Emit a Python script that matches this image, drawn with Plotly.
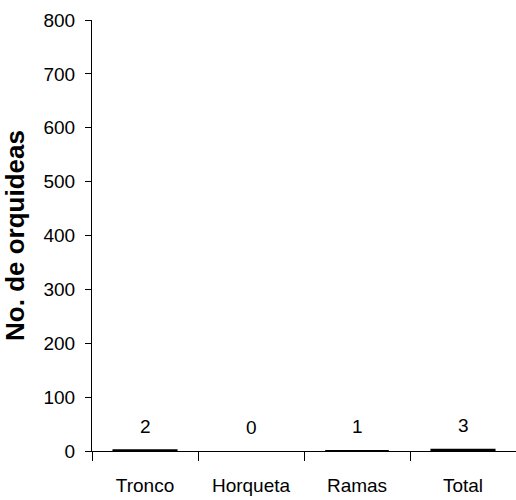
import plotly.graph_objects as go

# Orchid counts by position on the host tree
categories = ["Tronco", "Horqueta", "Ramas", "Total"]
counts = [2, 0, 1, 3]
y_ticks = [0, 100, 200, 300, 400, 500, 600, 700, 800]

font_family = "Liberation Sans, Arial, sans-serif"

fig = go.Figure(
    go.Bar(
        x=categories,
        y=counts,
        width=0.6,
        marker=dict(color="black", line=dict(color="black", width=[1.5, 0, 0, 1.5])),
        hoverinfo="x+y",
    )
)

# Value labels above each bar
for cat, val in zip(categories, counts):
    fig.add_annotation(
        x=cat, y=val, text=str(val), showarrow=False,
        yanchor="bottom", yshift=11,
        font=dict(family=font_family, size=19, color="black"),
    )

fig.update_layout(
    width=516, height=500,
    margin=dict(l=92, r=0, t=20, b=49),
    plot_bgcolor="white", paper_bgcolor="white",
    showlegend=False,
    font=dict(family=font_family, size=19, color="black"),
)

fig.update_xaxes(
    type="category",
    showline=True, linecolor="black", linewidth=1,
    ticks="outside", tickson="boundaries", ticklen=9, tickcolor="black",
    ticklabelstandoff=17,
    showgrid=False, zeroline=False,
    tickfont=dict(family=font_family, size=19, color="black"),
)

fig.update_yaxes(
    range=[0, 800],
    tickvals=y_ticks,
    showline=True, linecolor="black", linewidth=1,
    ticks="outside", ticklen=6, tickcolor="black",
    ticklabelstandoff=6,
    showgrid=False, zeroline=False,
    tickfont=dict(family=font_family, size=19, color="black"),
    title=dict(
        text="<b>No. de orquideas</b>",
        font=dict(family=font_family, size=26, color="black"),
        standoff=11,
    ),
)

fig.write_html("out.html")
